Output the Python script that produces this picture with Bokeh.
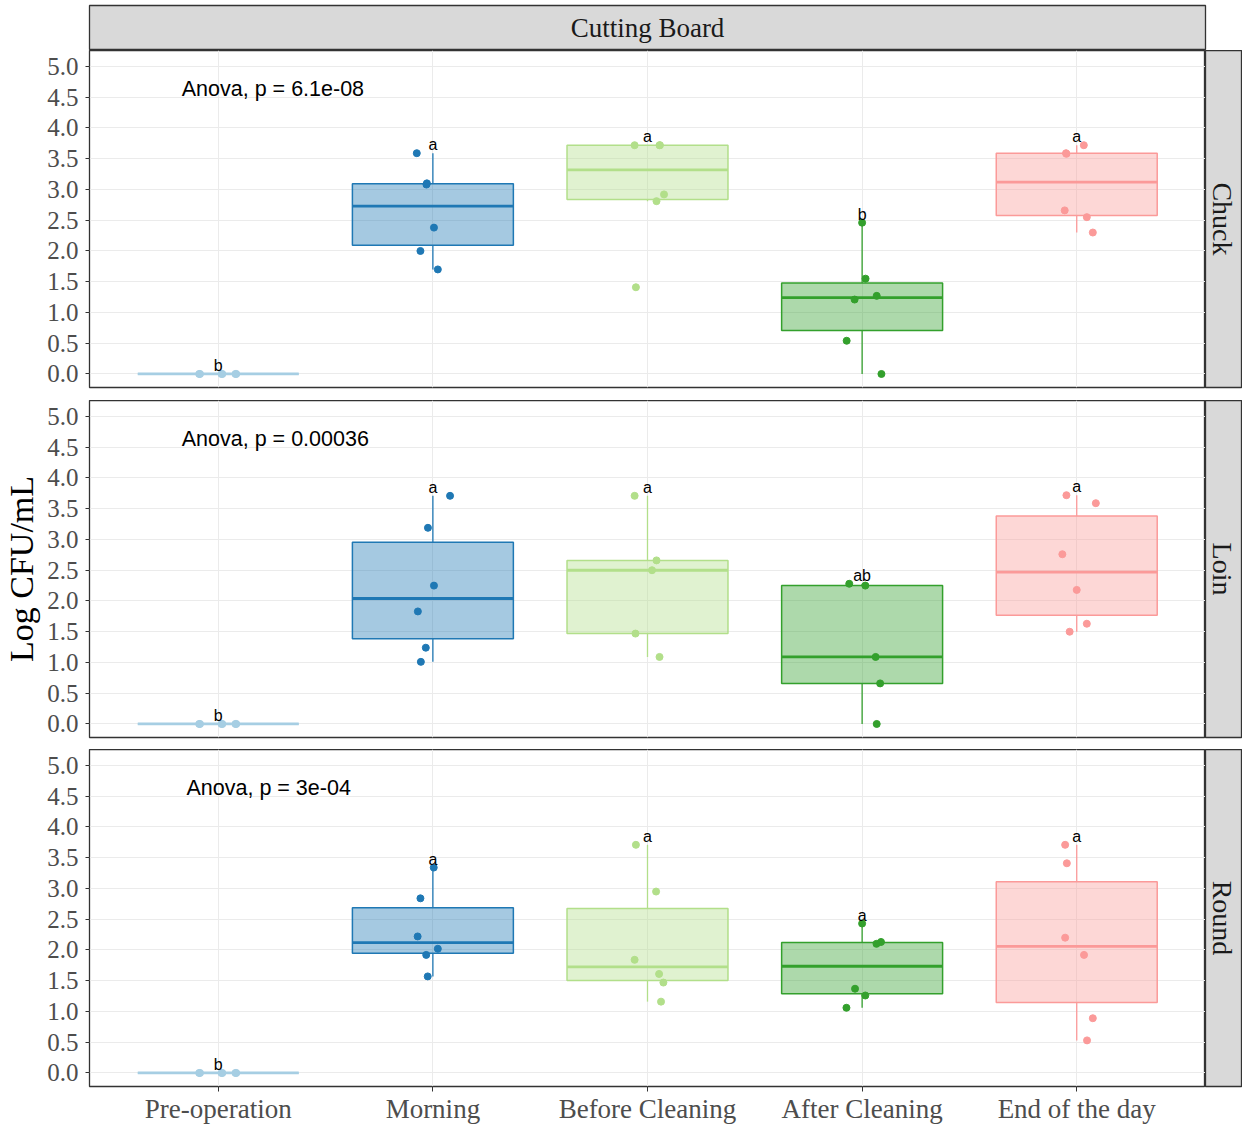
import numpy as np
from bokeh.plotting import figure
from bokeh.layouts import column, row
from bokeh.models import Range1d, FixedTicker, PrintfTickFormatter
from bokeh.core.properties import value
from bokeh.embed import file_html
from bokeh.resources import INLINE

# ---- data -----------------------------------------------------------------
stages = ["Pre-operation", "Morning", "Before Cleaning", "After Cleaning", "End of the day"]
stage_colors = ["#A6CEE3", "#1F78B4", "#B2DF8A", "#33A02C", "#FB9A99"]
cuts = ["Chuck", "Loin", "Round"]
surface = "Cutting Board"
anova_text = ["Anova, p = 6.1e-08", "Anova, p = 0.00036", "Anova, p = 3e-04"]
y_ticks = [0.0, 0.5, 1.0, 1.5, 2.0, 2.5, 3.0, 3.5, 4.0, 4.5, 5.0]

# Log CFU/mL of each swab, one list per sampling stage
chuck = [
    [0.0, 0.0, 0.0, 0.0, 0.0, 0.0],
    [3.59, 3.10, 3.08, 2.38, 2.00, 1.70],
    [3.72, 3.72, 3.72, 2.92, 2.81, 1.41],
    [2.46, 1.55, 1.27, 1.21, 0.54, 0.00],
    [3.72, 3.59, 3.58, 2.66, 2.55, 2.30],
]
loin = [
    [0.0, 0.0, 0.0, 0.0, 0.0, 0.0],
    [3.71, 3.19, 2.25, 1.83, 1.24, 1.01],
    [3.71, 2.66, 2.50, 1.47, 1.09],
    [2.28, 2.25, 1.09, 0.66, 0.00],
    [3.72, 3.59, 2.76, 2.18, 1.63, 1.50],
]
round_cut = [
    [0.0, 0.0, 0.0, 0.0, 0.0, 0.0],
    [3.34, 2.84, 2.22, 2.02, 1.92, 1.57],
    [3.71, 2.95, 1.84, 1.61, 1.47, 1.16],
    [2.43, 2.13, 2.10, 1.37, 1.26, 1.06],
    [3.71, 3.41, 2.20, 1.92, 0.89, 0.53],
]

# horizontal jitter of each point (fraction of a category slot)
chuck_jitter = [
    [-0.089, 0.019, 0.084, 0.015, 0.080, -0.085],
    [-0.075, -0.028, -0.030, 0.005, -0.058, 0.023],
    [-0.060, 0.056, 0.058, 0.077, 0.042, -0.054],
    [0.000, 0.016, 0.068, -0.035, -0.072, 0.090],
    [0.033, -0.050, -0.048, -0.056, 0.047, 0.075],
]
loin_jitter = [
    [-0.089, 0.019, 0.084, 0.015, 0.080, -0.085],
    [0.080, -0.023, 0.005, -0.070, -0.033, -0.056],
    [-0.060, 0.042, 0.021, -0.056, 0.056],
    [-0.060, 0.015, 0.063, 0.084, 0.068],
    [-0.048, 0.089, -0.067, 0.000, 0.047, -0.033],
]
round_jitter = [
    [-0.089, 0.019, 0.084, 0.015, 0.080, -0.085],
    [0.004, -0.058, -0.071, 0.023, -0.031, -0.024],
    [-0.054, 0.040, -0.060, 0.054, 0.074, 0.063],
    [0.000, 0.088, 0.067, -0.033, 0.015, -0.073],
    [-0.054, -0.046, -0.054, 0.034, 0.075, 0.048],
]

# Tukey letter groups
chuck_letters = ["b", "a", "a", "b", "a"]
loin_letters = ["b", "a", "a", "ab", "a"]
round_letters = ["b", "a", "a", "a", "a"]

panel_values = [chuck, loin, round_cut]
panel_jitter = [chuck_jitter, loin_jitter, round_jitter]
panel_letters = [chuck_letters, loin_letters, round_letters]

# ---- styling ----------------------------------------------------------------
LEFT = 89
PANEL_W = 1116
STRIP_W = 37
BORDER = "#333333"
GRID = "#EBEBEB"
STRIP_FILL = "#D9D9D9"
SERIF = "Liberation Serif"
SANS = "Liberation Sans"
BOX_HALF = 0.375
anova_x = [0.83, 0.83, 0.852]
anova_y = 4.64
panel_heights = [350, 349, 377]
panel_bottoms = [13, 12, 40]


def box_stats(vals):
    v = np.sort(np.asarray(vals, dtype=float))
    q1, med, q3 = np.percentile(v, [25, 50, 75])
    iqr = q3 - q1
    lo = v[v >= q1 - 1.5 * iqr].min()
    hi = v[v <= q3 + 1.5 * iqr].max()
    return q1, med, q3, lo, hi


def make_panel(k):
    last = k == len(cuts) - 1
    p = figure(width=LEFT + PANEL_W, height=panel_heights[k],
               x_range=Range1d(0.4, 5.6), y_range=Range1d(-0.22, 5.26),
               output_backend="svg", toolbar_location=None,
               x_axis_location="below" if last else None, y_axis_location="left",
               min_border_left=LEFT, min_border_right=0, min_border_top=0,
               min_border_bottom=panel_bottoms[k])
    p.background_fill_color = "white"
    p.border_fill_color = "white"
    p.outline_line_color = BORDER
    p.outline_line_width = 1.3

    p.xgrid.ticker = FixedTicker(ticks=[1, 2, 3, 4, 5])
    p.ygrid.ticker = FixedTicker(ticks=y_ticks)
    for g in (p.xgrid[0], p.ygrid[0]):
        g.grid_line_color = GRID
        g.grid_line_width = 1
        g.minor_grid_line_color = None

    ya = p.yaxis[0]
    ya.ticker = FixedTicker(ticks=y_ticks)
    ya.formatter = PrintfTickFormatter(format="%.1f")
    ya.major_label_text_font = SERIF
    ya.major_label_text_font_size = "25px"
    ya.major_label_text_color = "#4D4D4D"
    ya.major_tick_in = 0
    ya.major_tick_out = 4
    ya.minor_tick_in = 0
    ya.minor_tick_out = 0
    ya.major_tick_line_color = BORDER
    ya.axis_line_color = None
    ya.major_label_standoff = 7
    if k == 1:
        ya.axis_label = "Log CFU/mL"
        ya.axis_label_text_font = SERIF
        ya.axis_label_text_font_size = "34px"
        ya.axis_label_text_font_style = "normal"
        ya.axis_label_text_color = "black"
        ya.axis_label_standoff = 4

    if last:
        xa = p.xaxis[0]
        xa.ticker = FixedTicker(ticks=[1, 2, 3, 4, 5])
        xa.major_label_overrides = {i + 1: s for i, s in enumerate(stages)}
        xa.major_label_text_font = SERIF
        xa.major_label_text_font_size = "27px"
        xa.major_label_text_color = "#4D4D4D"
        xa.major_tick_in = 0
        xa.major_tick_out = 5
        xa.minor_tick_in = 0
        xa.minor_tick_out = 0
        xa.major_tick_line_color = BORDER
        xa.axis_line_color = None
        xa.major_label_standoff = 2

    values = panel_values[k]
    jitter = panel_jitter[k]
    letters = panel_letters[k]
    for i, (vals, jit, col) in enumerate(zip(values, jitter, stage_colors)):
        x = i + 1
        q1, med, q3, lo, hi = box_stats(vals)
        p.segment(x0=[x, x], y0=[q3, q1], x1=[x, x], y1=[hi, lo],
                  line_color=col, line_width=1.3)
        p.quad(left=[x - BOX_HALF], right=[x + BOX_HALF], bottom=[q1], top=[q3],
               fill_color=col, fill_alpha=0.4, line_color=col, line_width=1.5)
        p.segment(x0=[x - BOX_HALF], y0=[med], x1=[x + BOX_HALF], y1=[med],
                  line_color=col, line_width=2.8)
        p.scatter(x=[x + j for j in jit], y=vals, size=7, marker="circle",
                  fill_color=col, line_color=col)
        p.text(x=[x], y=[max(vals)], text=[letters[i]], text_font=value(SANS),
               text_font_size="16px", text_align="center", text_baseline="bottom",
               text_color="black")

    p.text(x=[anova_x[k]], y=[anova_y], text=[anova_text[k]], text_font=value(SANS),
           text_font_size="21.5px", text_align="left", text_baseline="middle",
           text_color="black")
    return p


def make_side_strip(k):
    s = figure(width=STRIP_W, height=panel_heights[k],
               x_range=Range1d(0, 1), y_range=Range1d(0, 1),
               output_backend="svg", toolbar_location=None,
               x_axis_location=None, y_axis_location=None,
               min_border_left=0, min_border_right=0, min_border_top=0,
               min_border_bottom=panel_bottoms[k])
    s.background_fill_color = STRIP_FILL
    s.border_fill_color = "white"
    s.outline_line_color = BORDER
    s.outline_line_width = 1.3
    s.xgrid.visible = False
    s.ygrid.visible = False
    s.text(x=[0.47], y=[0.5], text=[cuts[k]], angle=-np.pi / 2,
           text_font=value(SERIF), text_font_size="28px", text_color="#1A1A1A",
           text_align="center", text_baseline="middle")
    return s


top = figure(width=LEFT + PANEL_W + STRIP_W, height=50,
             x_range=Range1d(0, 1), y_range=Range1d(0, 1),
             output_backend="svg", toolbar_location=None,
             x_axis_location=None, y_axis_location=None,
             min_border_left=LEFT, min_border_right=STRIP_W,
             min_border_top=5, min_border_bottom=0)
top.background_fill_color = STRIP_FILL
top.border_fill_color = "white"
top.outline_line_color = BORDER
top.outline_line_width = 1.3
top.xgrid.visible = False
top.ygrid.visible = False
top.text(x=[0.5], y=[0.5], text=[surface], text_font=value(SERIF),
         text_font_size="27px", text_color="#1A1A1A",
         text_align="center", text_baseline="middle")

rows = [row(make_panel(k), make_side_strip(k)) for k in range(len(cuts))]
layout = column(top, *rows)

open("out.html", "w").write(file_html(layout, INLINE))
